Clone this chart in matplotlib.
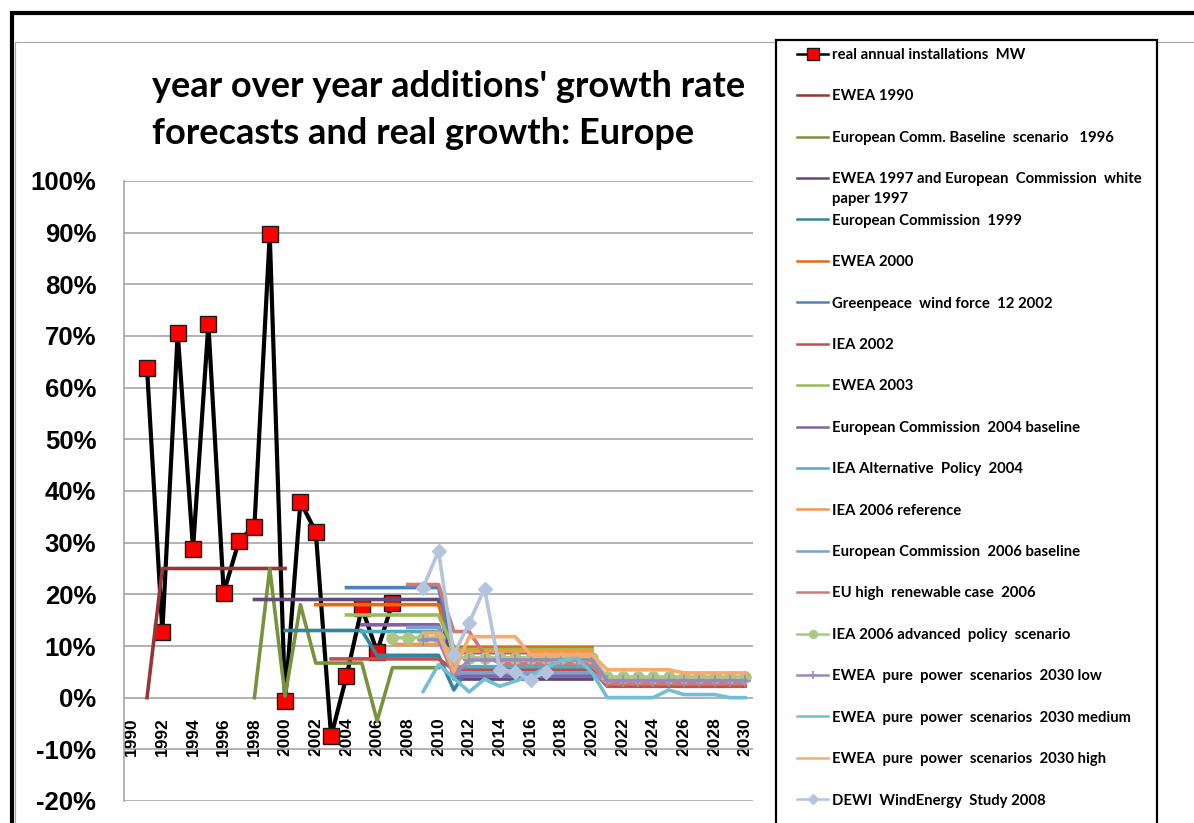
import matplotlib
matplotlib.use("Agg")
import numpy as np
import matplotlib.pyplot as plt
from matplotlib.patches import Rectangle
from matplotlib.ticker import PercentFormatter

plt.rcParams['axes.unicode_minus'] = False

# growth rates in %, each series starts at its first year
real_start = 1991
real_mw = [63.8, 12.8, 70.6, 28.8, 72.3, 20.3, 30.4, 33.1, 89.7, -0.6,
           37.9, 32.1, -7.5, 4.1, 17.4, 8.9, 18.4]

ewea_1990_start = 1991
ewea_1990 = [0, 25, 25, 25, 25, 25, 25, 25, 25, 25]

ec_1996_start = 1998
ec_1996 = [0, 25, 0.3, 18, 6.7, 6.7, 6.7, 6.7, -4.5, 5.8, 5.8, 5.8, 5.8]

ewea_1997_start = 1998
ewea_1997 = [19, 19, 19, 19, 19, 19, 19, 19, 19, 19, 19, 19, 19,
             3.6, 3.6, 3.6, 3.6, 3.6, 3.6, 3.6, 3.6, 3.6, 3.6]

ec_1999_start = 2000
ec_1999 = [13, 13, 13, 13, 13, 13, 8.2, 8.2, 8.2, 8.2, 8.2, 1.5, 6.0]

ewea_2000_start = 2002
ewea_2000 = [18, 18, 18, 18, 18, 18, 18, 18, 18,
             9.7, 9.7, 9.7, 9.7, 9.7, 9.7, 9.7, 9.7, 9.7, 9.7]

greenpeace_start = 2004
greenpeace = [21.3, 21.3, 21.3, 21.3, 21.3, 21.3, 21.3,
              8.7, 8.7, 8.7, 8.7, 8.7, 8.7, 8.7, 8.7, 8.7, 8.7]

iea_2002_start = 2003
iea_2002 = [7.5, 7.5, 7.5, 7.5, 7.5, 7.5, 7.5, 7.5,
            5.4, 5.4, 5.4, 5.4, 5.4, 5.4, 5.4, 5.4, 5.4, 5.4,
            2.2, 2.2, 2.2, 2.2, 2.2, 2.2, 2.2, 2.2, 2.2, 2.2]

ewea_2003_start = 2004
ewea_2003 = [16, 16, 16, 16, 16, 16, 16,
             9.3, 9.3, 9.3, 9.3, 9.3, 9.3, 9.3, 9.3, 9.3, 9.3]

ec_2004_start = 2005
ec_2004 = [14.1, 14.1, 14.1, 14.1, 14.1, 14.1,
           4.3, 4.3, 4.3, 4.3, 4.3, 4.3, 4.3, 4.3, 4.3, 4.3]

iea_alt_2004_start = 2005
iea_alt_2004 = [12.8, 12.8, 12.8, 12.8, 12.8, 12.8,
                6.0, 6.0, 6.0, 6.0, 6.0, 6.0, 6.0, 6.0, 6.0, 6.0]

iea_2006_ref_start = 2007
iea_2006_ref = [10.3, 10.3, 10.3, 10.3,
                9.0, 9.0, 9.0, 9.0, 9.0, 9.0, 9.0, 9.0, 9.0, 9.0]

ec_2006_base_start = 2008
ec_2006_base = [13.6, 13.6, 13.6,
                4.8, 4.8, 4.8, 4.8, 4.8, 4.8, 4.8, 4.8, 4.8, 4.8,
                3.0, 3.0, 3.0, 3.0, 3.0, 3.0, 3.0, 3.0, 3.0, 3.0]

eu_high_start = 2008
eu_high = [21.9, 21.9, 21.9, 12.8, 12.8, 8.3,
           6.6, 6.6, 6.6, 6.6, 6.6, 6.6, 6.6,
           2.7, 2.7, 2.7, 2.7, 2.7, 2.7, 2.7, 2.7, 2.7, 2.7]

iea_adv_start = 2007
iea_adv = [11.6, 11.6, 11.6, 11.6,
           7.7, 7.7, 7.7, 7.7, 7.7, 7.7, 7.7, 7.7, 7.7, 7.7,
           4.0, 4.0, 4.0, 4.0, 4.0, 4.0, 4.0, 4.0, 4.0, 4.0]

ewea_low_start = 2009
ewea_low = [11.2, 11.2, 4.3, 7.3, 7.3, 7.3, 7.3, 7.3, 7.3, 7.3, 7.3, 7.3,
            3.3, 3.3, 3.3, 3.3, 3.3, 3.3, 3.3, 3.3, 3.3, 3.3]

ewea_med_start = 2009
ewea_med = [1.2, 6.4, 3.8, 1.1, 3.6, 2.2, 3.2, 4.2, 5.8, 7.2, 7.7, 4.9,
            0.0, 0.0, 0.0, 0.0, 1.5, 0.6, 0.6, 0.6, 0.0, 0.0]

ewea_high_start = 2009
ewea_high = [12.5, 12.5, 5.0, 11.8, 11.8, 11.8, 11.8, 8.3, 8.3, 8.3, 8.3, 8.3,
             5.4, 5.4, 5.4, 5.4, 5.4, 4.8, 4.8, 4.8, 4.8, 4.8]

dewi_start = 2009
dewi = [21.3, 28.4, 8.3, 14.5, 21.1, 5.4, 5.0, 3.5, 5.0]

year_labels = [str(y) for y in range(1990, 2031, 2)]


def yrs(start, vals):
    return np.arange(start, start + len(vals))


W, H = 1194, 823
fig = plt.figure(figsize=(W / 100, H / 100), dpi=100)
ax = fig.add_axes([124 / W, 1 - 801 / H, (753 - 124) / W, (801 - 181) / H])

lw = 2.6
ax.plot(yrs(real_start, real_mw), real_mw, color='black', lw=3, marker='s', ms=11.5,
        mfc='#FF0000', mec='#1a1a1a', mew=1, label='real annual installations  MW', zorder=2)
ax.plot(yrs(ewea_1990_start, ewea_1990), ewea_1990, color='#953735', lw=lw, label='EWEA 1990')
ax.plot(yrs(ec_1996_start, ec_1996), ec_1996, color='#77933C', lw=lw,
        label='European Comm. Baseline  scenario   1996')
ax.plot(yrs(ewea_1997_start, ewea_1997), ewea_1997, color='#604A7B', lw=lw,
        label='EWEA 1997 and European  Commission  white')
ax.plot(yrs(ec_1999_start, ec_1999), ec_1999, color='#31859C', lw=lw, label='European Commission  1999')
ax.plot(yrs(ewea_2000_start, ewea_2000), ewea_2000, color='#E46C0A', lw=lw, label='EWEA 2000')
ax.plot(yrs(greenpeace_start, greenpeace), greenpeace, color='#4F81BD', lw=lw,
        label='Greenpeace  wind force  12 2002')
ax.plot(yrs(iea_2002_start, iea_2002), iea_2002, color='#C0504D', lw=lw, label='IEA 2002')
ax.plot(yrs(ewea_2003_start, ewea_2003), ewea_2003, color='#9BBB59', lw=lw, label='EWEA 2003')
ax.plot(yrs(ec_2004_start, ec_2004), ec_2004, color='#8064A2', lw=lw,
        label='European Commission  2004 baseline')
ax.plot(yrs(iea_alt_2004_start, iea_alt_2004), iea_alt_2004, color='#4BACC6', lw=lw,
        label='IEA Alternative  Policy  2004')
ax.plot(yrs(iea_2006_ref_start, iea_2006_ref), iea_2006_ref, color='#F79646', lw=lw,
        label='IEA 2006 reference')
ax.plot(yrs(ec_2006_base_start, ec_2006_base), ec_2006_base, color='#7F9FCF', lw=lw,
        label='European Commission  2006 baseline')
ax.plot(yrs(eu_high_start, eu_high), eu_high, color='#D07A78', lw=lw,
        label='EU high  renewable case  2006')
ax.plot(yrs(iea_adv_start, iea_adv), iea_adv, color='#ABC784', lw=lw, marker='o', ms=8,
        label='IEA 2006 advanced  policy  scenario')
ax.plot(yrs(ewea_low_start, ewea_low), ewea_low, color='#9D88BC', lw=lw, marker='+', ms=9,
        mew=1.2, label='EWEA  pure  power  scenarios  2030 low')
ax.plot(yrs(ewea_med_start, ewea_med), ewea_med, color='#72BED3', lw=lw,
        label='EWEA  pure  power  scenarios  2030 medium')
ax.plot(yrs(ewea_high_start, ewea_high), ewea_high, color='#F9A96B', lw=lw,
        label='EWEA  pure  power  scenarios  2030 high')
ax.plot(yrs(dewi_start, dewi), dewi, color='#B3C4DF', lw=lw, marker='D', ms=7,
        label='DEWI  WindEnergy  Study 2008')

ax.set_xlim(1989.5, 2030.5)
ax.set_ylim(-20, 100)
ax.set_yticks(np.arange(-20, 101, 10))
ax.yaxis.set_major_formatter(PercentFormatter(decimals=0))
ax.set_xticks(np.arange(1990, 2031, 2))
ax.set_xticklabels(year_labels)
ax.grid(axis='y', color='#A6A6A6', lw=1.2)
ax.set_axisbelow(True)
ax.spines['bottom'].set_position(('data', 0))
ax.spines['bottom'].set_visible(False)
for s in ('top', 'right'):
    ax.spines[s].set_visible(False)
ax.spines['left'].set_color('#A6A6A6')
ax.spines['left'].set_linewidth(1.2)
ax.tick_params(axis='y', length=0, pad=20, labelsize=18.5)
ax.tick_params(axis='x', length=0, pad=14, labelsize=12.5, labelrotation=90)
for t in ax.get_yticklabels() + ax.get_xticklabels():
    t.set_fontweight('bold')
    t.set_family('Liberation Sans')

fig.text(152 / W, 1 - 70 / H, "year over year additions' growth rate\nforecasts and real growth: Europe",
         ha='left', va='top', fontsize=26, fontweight='bold', family='Lato', linespacing=1.52)

# outer frames and legend box
fig.add_artist(Rectangle((11.5 / W, -0.1), 1.2, 1.1 - 13.5 / H, transform=fig.transFigure,
                         fill=False, ec='black', lw=3, zorder=-3))
fig.add_artist(Rectangle((15 / W, -0.1), 1.2, 1.1 - 41.5 / H, transform=fig.transFigure,
                         fill=False, ec='#A6A6A6', lw=0.8, zorder=-2))
fig.add_artist(Rectangle((776 / W, -0.1), (1157 - 776) / W, 1.1 - 40 / H, transform=fig.transFigure,
                         fc='white', ec='black', lw=1.6, zorder=-1))

leg = ax.legend(loc='upper left', bbox_to_anchor=(797 / W, 1 - 48 / H), bbox_transform=fig.transFigure,
                frameon=False, borderpad=0, borderaxespad=0, handlelength=2.1, handletextpad=0.27,
                labelspacing=1.845, markerscale=0.7, numpoints=1,
                prop={'family': 'Lato', 'weight': 'bold', 'size': 10.7})
for h in leg.legend_handles:
    h.set_linewidth(1.8)
ax.annotate('paper 1997', xy=(0, 0.5), xycoords=leg.get_texts()[3], xytext=(0, -20),
            textcoords='offset pixels', ha='left', va='center', fontsize=10.7,
            fontweight='bold', family='Lato', zorder=10)

fig.savefig('out.png', dpi=100)
